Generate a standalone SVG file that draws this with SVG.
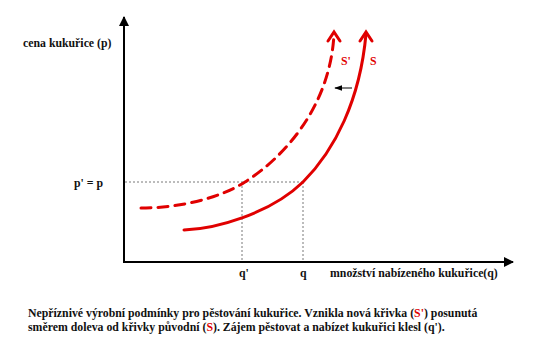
<svg xmlns="http://www.w3.org/2000/svg" width="540" height="359" viewBox="0 0 540 359">
<style>
text{font-family:"Liberation Serif","Times New Roman",serif;font-weight:bold;font-size:11.8px;fill:#111}
.red{fill:#e00000}
.axis{stroke:#000;stroke-width:2;fill:none}
.guide{stroke:#555;stroke-width:0.8;stroke-dasharray:2,2;fill:none}
.curve{stroke:#e00000;stroke-width:3;fill:none;stroke-linecap:round}
</style>
<defs>
<marker id="ah" viewBox="0 0 10 10" refX="9" refY="5" markerWidth="5" markerHeight="5" orient="auto" markerUnits="strokeWidth">
<path d="M0,0 L10,5 L0,10 z" fill="#000"/>
</marker>
<marker id="sm" viewBox="0 0 10 10" refX="9" refY="5" markerWidth="8" markerHeight="8" orient="auto" markerUnits="userSpaceOnUse">
<path d="M0,1.5 L10,5 L0,8.5 z" fill="#000"/>
</marker>
</defs>
<rect width="540" height="359" fill="#fff"/>
<g id="axes">
<path class="axis" d="M124,262 V17" marker-end="url(#ah)"/>
<path class="axis" d="M123,262 H513" marker-end="url(#ah)"/>
</g>
<g id="connectors">
<path class="guide" d="M125,182 H303 M242,182 V261 M303,182 V261"/>
<path d="M352,88 H335" stroke="#000" stroke-width="1" marker-end="url(#sm)"/>
</g>
<g id="curve-S">
<path class="curve" d="M184,230 C215,229 270,214 303,182 C335,150 360,100 366,34"/>
<path class="curve" d="M360,41 L366,32 L372,41"/>
<text class="red" x="370" y="65">S</text>
</g>
<g id="curve-S-prime">
<path class="curve" stroke-linecap="butt" stroke-dasharray="10,7" d="M141,208 C180,208 220,198 245,182 C280,160 330,110 334,34"/>
<path class="curve" d="M328,41 L334,32 L340,41"/>
<text class="red" x="341" y="65">S'</text>
</g>
<g id="labels">
<text x="23" y="47">cena kukuřice (p)</text>
<text x="74" y="187">p' = p</text>
<text x="239" y="277">q'</text>
<text x="300" y="277">q</text>
<text x="330" y="277">množství nabízeného kukuřice(q)</text>
<text x="28" y="317">Nepříznivé výrobní podmínky pro pěstování kukuřice. Vznikla nová křivka (<tspan class="red">S'</tspan>) posunutá</text>
<text x="28" y="331">směrem doleva od křivky původní (<tspan class="red">S</tspan>). Zájem pěstovat a nabízet kukuřici klesl (q').</text>
</g>
</svg>
